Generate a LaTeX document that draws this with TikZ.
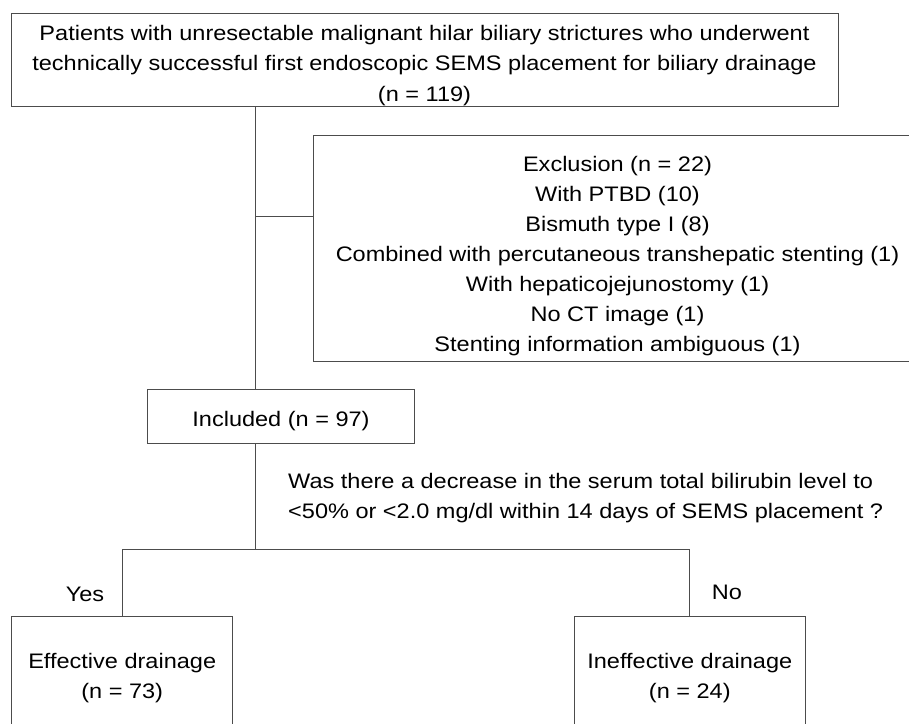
\documentclass[tikz,border=0pt]{standalone}
\usepackage{fontspec}
\setmainfont[FakeStretch=1.12]{Liberation Sans}
\newcommand\lift[1]{\rule{0pt}{#1pt}}
\begin{document}
\begin{tikzpicture}[x=1pt,y=-1pt,
box/.style={draw=black!70,line width=1pt,align=center,inner sep=0pt,font=\fontsize{21}{30}\selectfont},
lbl/.style={inner sep=0pt,font=\fontsize{21}{30}\selectfont},
link/.style={draw=black!70,line width=1pt}]
\useasboundingbox(0,0)rectangle(909,723);
\clip(0,0)rectangle(909,723);
\node[box,minimum width=827,minimum height=93,font=\fontsize{21}{30.5}\selectfont](pat)at(424.5,59.5){\lift{27}Patients with unresectable malignant hilar biliary strictures who underwent\\technically successful first endoscopic SEMS placement for biliary drainage\\(n = 119)};
\node[box,minimum width=608,minimum height=226](excl)at(617.5,248){\lift{31}Exclusion (n = 22)\\With PTBD (10)\\Bismuth type I (8)\\Combined with percutaneous transhepatic stenting (1)\\With hepaticojejunostomy (1)\\No CT image (1)\\Stenting information ambiguous (1)};
\node[box,minimum width=267,minimum height=54](incl)at(281,416.5){\lift{25}Included (n = 97)};
\node[lbl,anchor=west,align=left](quest)at(288,498){Was there a decrease in the serum total bilirubin level to\\<50\% or <2.0 mg/dl within 14 days of SEMS placement ?};
\node[box,minimum width=221,minimum height=119](eff)at(122.2,675.5){\lift{20}Effective drainage\\(n = 73)};
\node[box,minimum width=231,minimum height=119](ineff)at(689.8,675.5){\lift{20}Ineffective drainage\\(n = 24)};
\node[lbl](yes)at(85,594){Yes};
\node[lbl](no)at(727,592){No};
\coordinate(br)at(255,216);
\coordinate(split)at(255,549.5);
\draw[link](pat.south-|br)--(incl.north-|br);
\draw[link](br)--(br-|excl.west);
\draw[link](incl.south-|split)--(split);
\draw[link](eff.north)|-(split)-|(ineff.north);
\end{tikzpicture}
\end{document}
